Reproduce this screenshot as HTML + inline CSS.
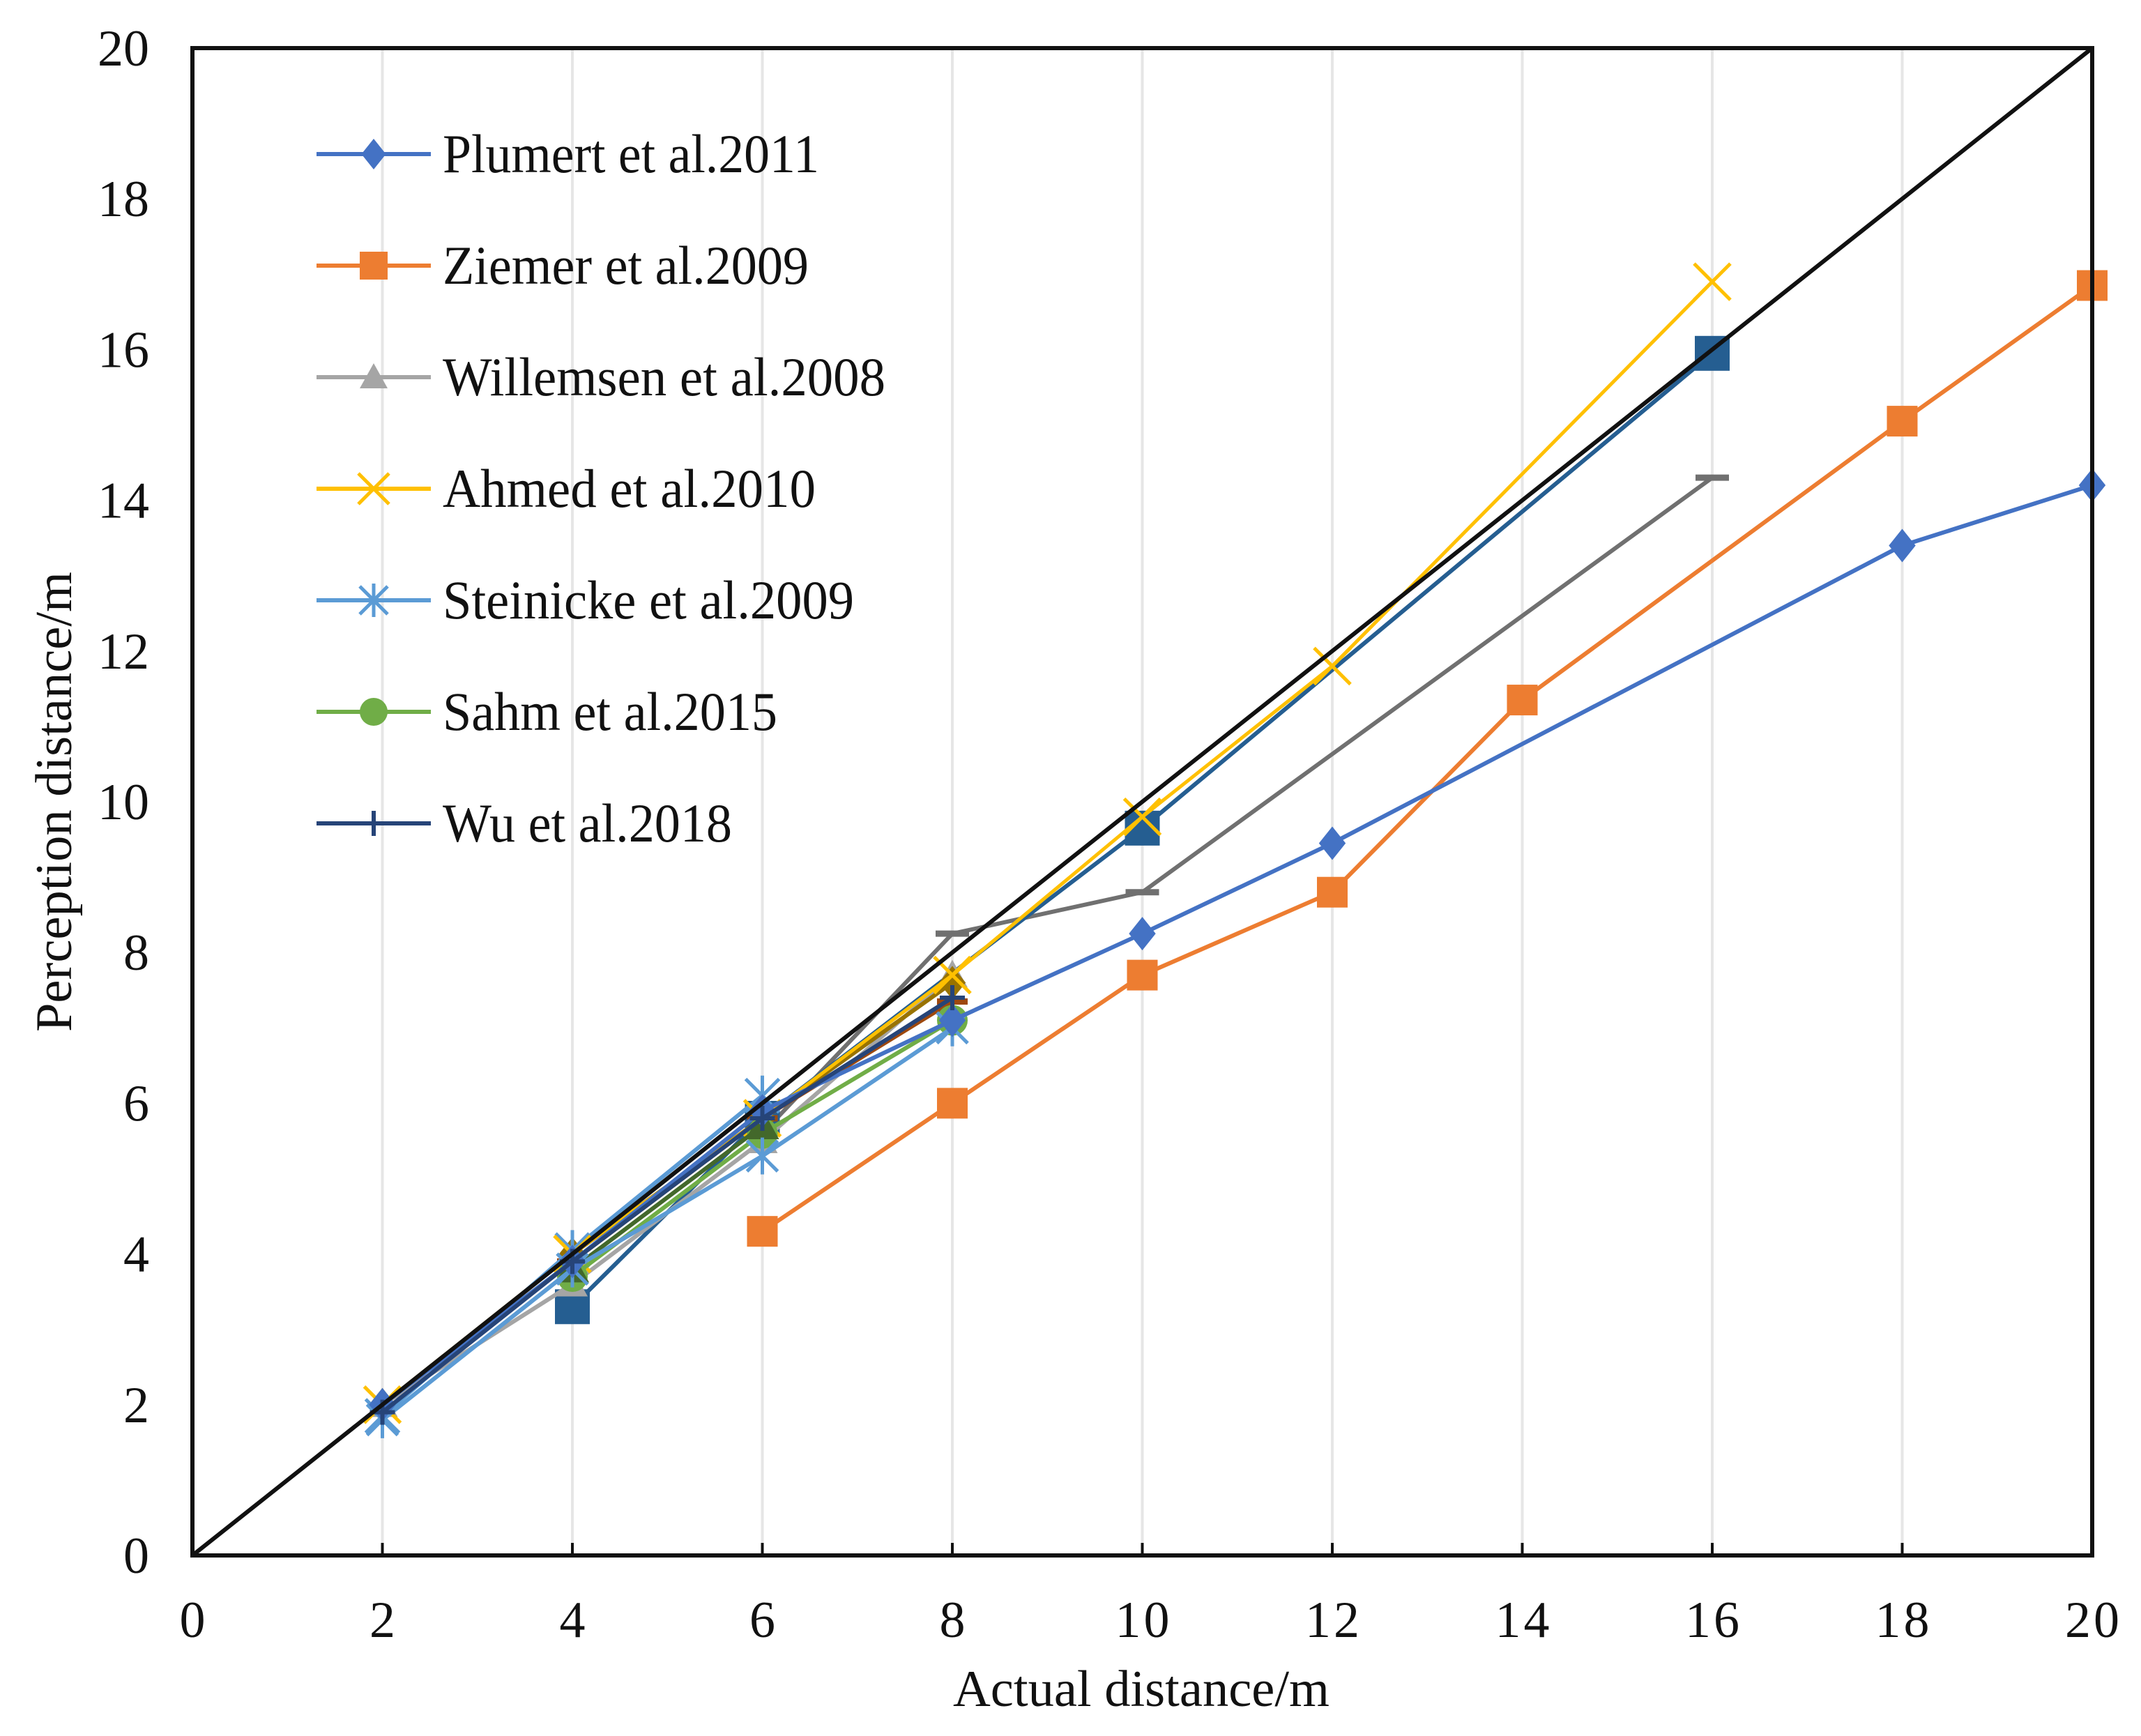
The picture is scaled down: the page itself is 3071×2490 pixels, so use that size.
<!DOCTYPE html>
<html><head><meta charset="utf-8"><style>html,body{margin:0;padding:0;background:#fff}svg{display:block}text{font-family:"Liberation Serif",serif;fill:#111}</style></head>
<body>
<svg id="chart" width="3071" height="2490" viewBox="0 0 3071 2490" xmlns="http://www.w3.org/2000/svg">
<g id="grid"></g>
<g id="series"></g>
<g id="axes"></g>
<g id="legend"></g>
<text x="1637" y="2447" font-size="74" text-anchor="middle" textLength="540" lengthAdjust="spacingAndGlyphs">Actual distance/m</text>
<text x="0" y="0" font-size="74" text-anchor="middle" transform="translate(102,1150) rotate(-90)" textLength="660" lengthAdjust="spacingAndGlyphs">Perception distance/m</text>
</svg>
<script>
const xTicks = [0,2,4,6,8,10,12,14,16,18,20];
const yTicks = [0,2,4,6,8,10,12,14,16,18,20];
const plumertX = [2,4,6,8,10,12,18,20];
const plumertY = [2,3.9,5.9,7.1,8.25,9.45,13.4,14.2];
const ziemerX = [6,8,10,12,14,18,20];
const ziemerY = [4.3,6.0,7.7,8.8,11.35,15.05,16.85];
const willemsenX = [2,4,6,8];
const willemsenY = [2,3.6,5.5,7.7];
const ahmedX = [2,4,6,8,10,12,16];
const ahmedY = [2,4,5.8,7.7,9.8,11.8,16.9];
const steinickeX = [2,4,6,8];
const steinickeY = [1.8,3.8,5.3,7.0];
const steinicke2X = [2,4,6];
const steinicke2Y = [1.85,4.05,6.1];
const sahmX = [4,6,8];
const sahmY = [3.7,5.6,7.1];
const wuX = [2,4,6,8];
const wuY = [1.9,3.9,5.8,7.4];
const navyX = [4,6,10,16];
const navyY = [3.3,5.8,9.65,15.95];
const dgrayX = [6,8,10,16];
const dgrayY = [5.6,8.25,8.8,14.3];
const goldX = [2,4,6,8];
const goldY = [2,4,5.8,7.6];
const brownX = [4,6,8];
const brownY = [3.9,5.8,7.35];
const dgreenX = [4,6];
const dgreenY = [3.8,5.7];
const refX = [0,20];
const refY = [0,20];
const legendNames = ["Plumert et al.2011","Ziemer et al.2009","Willemsen et al.2008","Ahmed et al.2010","Steinicke et al.2009","Sahm et al.2015","Wu et al.2018"];

const X0=276,X1=3001,Y0=2231,Y1=69;
const sx=v=>X0+(X1-X0)*v/20;
const sy=v=>Y0-(Y0-Y1)*v/20;
const NS="http://www.w3.org/2000/svg";
function mk(tag,parent,attrs){const e=document.createElementNS(NS,tag);for(const k in attrs)e.setAttribute(k,attrs[k]);parent.appendChild(e);return e;}
const grid=document.getElementById('grid'),ser=document.getElementById('series'),axes=document.getElementById('axes'),leg=document.getElementById('legend');

xTicks.forEach(t=>{if(t>0&&t<20){const l=mk('line',grid,{x1:sx(t),x2:sx(t),y1:Y1,y2:Y0,stroke:'#e6e6e6','stroke-width':4});

}});

function marker(g,type,x,y,color,s){
  let e;
  if(type==='diamond')e=mk('polygon',g,{points:`${x},${y-s} ${x+s*0.8},${y} ${x},${y+s} ${x-s*0.8},${y}`,fill:color});
  else if(type==='square')e=mk('rect',g,{x:x-s,y:y-s,width:2*s,height:2*s,fill:color});
  else if(type==='triangle')e=mk('polygon',g,{points:`${x},${y-s} ${x+s},${y+s*0.8} ${x-s},${y+s*0.8}`,fill:color});
  else if(type==='circle')e=mk('circle',g,{cx:x,cy:y,r:s,fill:color});
  else if(type==='x')e=mk('path',g,{d:`M${x-s},${y-s}L${x+s},${y+s}M${x-s},${y+s}L${x+s},${y-s}`,stroke:color,'stroke-width':5,fill:'none'});
  else if(type==='star')e=mk('path',g,{d:`M${x-s},${y-s}L${x+s},${y+s}M${x-s},${y+s}L${x+s},${y-s}M${x},${y-s*1.2}L${x},${y+s*1.2}`,stroke:color,'stroke-width':5,fill:'none'});
  else if(type==='plus')e=mk('path',g,{d:`M${x-s},${y}L${x+s},${y}M${x},${y-s}L${x},${y+s}`,stroke:color,'stroke-width':6,fill:'none'});
  else if(type==='dash')e=mk('path',g,{d:`M${x-s},${y}L${x+s},${y}`,stroke:color,'stroke-width':9,fill:'none'});
  return e;
}
function series(name,xs,ys,color,type,s,w){
  const g=mk('g',ser,{});
  
  
  const p=mk('polyline',g,{points:xs.map((v,i)=>sx(v)+','+sy(ys[i])).join(' '),fill:'none',stroke:color,'stroke-width':w||6,'stroke-linejoin':'round'});
  
  
  if(type)xs.forEach((v,i)=>{const m=marker(g,type,sx(v),sy(ys[i]),color,s);
    
    });
}
series('series-dark-gray',dgrayX,dgrayY,'#707070','dash',24,6);
series('series-navy',navyX,navyY,'#255e91','square',25);
series('series-willemsen',willemsenX,willemsenY,'#a5a5a5','triangle',22);
series('series-brown',brownX,brownY,'#9e480e','dash',22);
series('series-gold',goldX,goldY,'#997300','diamond',24);
series('series-steinicke-2',steinicke2X,steinicke2Y,'#5b9bd5','star',24);
series('series-ahmed',ahmedX,ahmedY,'#ffc000','x',26,5);
series('series-sahm',sahmX,sahmY,'#70ad47','circle',22);
series('series-dark-green',dgreenX,dgreenY,'#43682b','triangle',24);
series('series-steinicke',steinickeX,steinickeY,'#5b9bd5','star',22);
series('series-ziemer',ziemerX,ziemerY,'#ed7d31','square',22);
series('series-plumert',plumertX,plumertY,'#4472c4','diamond',24);
series('series-wu',wuX,wuY,'#264478','plus',18);
series('reference-line',refX,refY,'#111','',0,6);

const frame=mk('rect',axes,{x:X0,y:Y1,width:X1-X0,height:Y0-Y1,fill:'none',stroke:'#111','stroke-width':6});


xTicks.forEach(t=>{
  const tk=mk('line',axes,{x1:sx(t),x2:sx(t),y1:Y0,y2:Y0-18,stroke:'#111','stroke-width':4});
  
  
  const a={x:sx(t),y:2348,'font-size':74,'text-anchor':'middle'};
  if(t>=10){a.textLength=78;a.lengthAdjust='spacing';}
  const tx=mk('text',axes,a);tx.textContent=t;
  
  
});
yTicks.forEach(t=>{
  const tx=mk('text',axes,{x:214,y:sy(t)+25,'font-size':74,'text-anchor':'end'});tx.textContent=t;
  
  
});

const legendTypes=[['#4472c4','diamond',22],['#ed7d31','square',20],['#a5a5a5','triangle',20],['#ffc000','x',22],['#5b9bd5','star',20],['#70ad47','circle',20],['#264478','plus',18]];
const legendLens=[540,525,635,535,590,480,415];
legendNames.forEach((n,i)=>{
  const y=221+i*160;
  const g=mk('g',leg,{});
  
  
  mk('line',g,{x1:454,x2:618,y1:y,y2:y,stroke:legendTypes[i][0],'stroke-width':6});
  marker(g,legendTypes[i][1],536,y,legendTypes[i][0],legendTypes[i][2]);
  const tx=mk('text',g,{x:635,y:y+26,'font-size':78,textLength:legendLens[i],lengthAdjust:'spacingAndGlyphs'});tx.textContent=n;
  
  
});
</script>
</body></html>
